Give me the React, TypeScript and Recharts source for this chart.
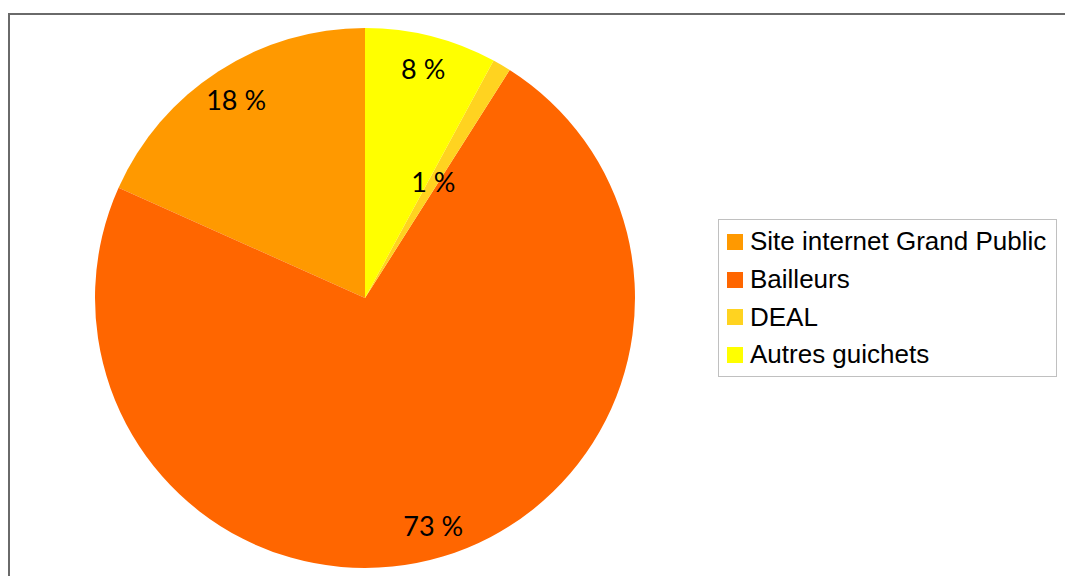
import { Legend, Pie, PieChart, Cell } from "recharts";

const categories = ["Site internet Grand Public", "Bailleurs", "DEAL", "Autres guichets"];
const shares = [18.3, 72.7, 1.1, 7.9];
const percentLabels = ["18 %", "73 %", "1 %", "8 %"];
const colors = ["#ff9900", "#ff6600", "#ffd320", "#ffff00"];

const data = categories.map((name, i) => ({ name, value: shares[i], label: percentLabels[i] }));

const RAD = Math.PI / 180;

function renderLabel(props: any) {
  const { cx, cy, midAngle, outerRadius, index } = props;
  // the small DEAL slice has its label pulled towards the centre
  const r = categories[index] === "DEAL" ? outerRadius * 0.5 : outerRadius * 0.878;
  const x = cx + r * Math.cos(-midAngle * RAD);
  const y = cy + r * Math.sin(-midAngle * RAD);
  return (
    <text
      x={x}
      y={y}
      fill="#000"
      textAnchor="middle"
      dominantBaseline="central"
      fontFamily="Lato, sans-serif"
      fontSize={27}
    >
      {percentLabels[index]}
    </text>
  );
}

function renderLegend() {
  return (
    <div
      style={{
        width: 339,
        height: 158,
        border: "1px solid #c0c0c0",
        boxSizing: "border-box",
        paddingTop: 3,
        fontFamily: "'Liberation Sans', Arial, sans-serif",
        fontSize: 26,
        color: "#000",
      }}
    >
      {categories.map((c, i) => (
        <div key={c} style={{ display: "flex", alignItems: "center", height: 37.7 }}>
          <span
            style={{
              display: "inline-block",
              width: 16,
              height: 16,
              marginLeft: 8,
              marginRight: 7,
              background: colors[i],
            }}
          />
          <span>{c}</span>
        </div>
      ))}
    </div>
  );
}

export default function App() {
  return (
    <div
      style={{
        position: "absolute",
        left: 0,
        top: 0,
        width: 1065,
        height: 576,
        overflow: "hidden",
        background: "#fff",
      }}
    >
      <div
        style={{
          position: "absolute",
          left: 8,
          top: 13,
          width: 1100,
          height: 600,
          border: "2px solid #6a6a6a",
          boxSizing: "border-box",
        }}
      />
      <div style={{ position: "absolute", left: 0, top: 0 }}>
        <PieChart width={1065} height={576} margin={{ top: 0, right: 0, bottom: 0, left: 0 }}>
          <Pie
            data={data}
            dataKey="value"
            nameKey="name"
            cx={365}
            cy={298}
            outerRadius={270}
            startAngle={90}
            endAngle={450}
            stroke="none"
            label={renderLabel}
            labelLine={false}
            isAnimationActive={false}
          >
            {data.map((d, i) => (
              <Cell key={d.name} fill={colors[i]} />
            ))}
          </Pie>
          <Legend
            content={renderLegend}
            wrapperStyle={{ left: 718, top: 219, width: 339 }}
          />
        </PieChart>
      </div>
    </div>
  );
}
